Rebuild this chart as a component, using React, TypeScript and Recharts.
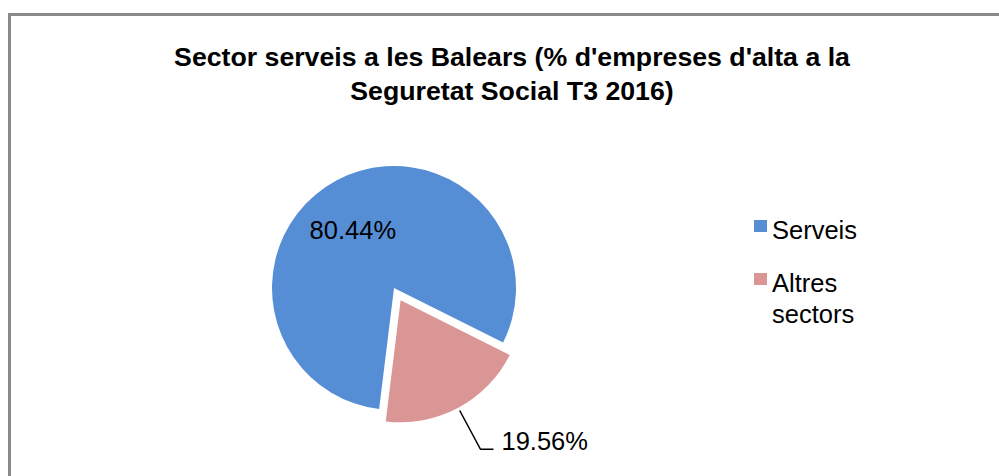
import { PieChart, Pie, Cell, Legend } from 'recharts';

const categories = ['Serveis', 'Altres sectors'];
const shares = [80.44, 19.56];
const shareLabels = ['80.44%', '19.56%'];
const colors = ['#558ed5', '#d99694'];

const data = categories.map((name, i) => ({ name, value: shares[i] }));

const FONT = '"Liberation Sans", Arial, Helvetica, sans-serif';
const RADIAN = Math.PI / 180;

// pie geometry (pink slice pulled out along its bisector)
const CX = 394;
const CY = 288;
const R = 122;
const START = 263;
const EXPLODE = 14;

function ServeisLabel(props: any) {
  const { cx, cy, midAngle, outerRadius, index } = props;
  if (index !== 0) return null;
  const r = outerRadius * 0.54;
  const x = cx + r * Math.cos(-midAngle * RADIAN) - 10;
  const y = cy + r * Math.sin(-midAngle * RADIAN);
  return (
    <text x={x} y={y + 9} textAnchor="middle" fill="#000" fontSize={25.5} fontFamily={FONT}>
      {shareLabels[0]}
    </text>
  );
}

function AltresLabel(props: any) {
  const { cx, cy, midAngle, outerRadius, index } = props;
  if (index !== 1) return null;
  const cos = Math.cos(-midAngle * RADIAN);
  const sin = Math.sin(-midAngle * RADIAN);
  const sx = cx + (outerRadius + 3) * cos;
  const sy = cy + (outerRadius + 3) * sin;
  const ex = cx + (outerRadius + 47) * cos;
  const ey = cy + (outerRadius + 47) * sin;
  return (
    <g>
      <path d={`M${sx},${sy}L${ex},${ey}L${ex + 13},${ey}`} stroke="#000" strokeWidth={1.5} fill="none" />
      <text x={ex + 21} y={ey + 1} textAnchor="start" fill="#000" fontSize={25.5} fontFamily={FONT}>
        {shareLabels[1]}
      </text>
    </g>
  );
}

function renderLegend() {
  return (
    <div style={{ position: 'relative', fontFamily: FONT, fontSize: 25.5, lineHeight: '31px', color: '#000' }}>
      {categories.map((name, i) => (
        <div key={name} style={{ position: 'relative', paddingLeft: 18, marginBottom: i === 0 ? 22 : 0 }}>
          <span
            style={{
              position: 'absolute',
              left: 0,
              top: 5,
              width: 13,
              height: 12,
              background: colors[i],
            }}
          />
          {name === 'Altres sectors' ? (
            <>
              Altres
              <br />
              sectors
            </>
          ) : (
            name
          )}
        </div>
      ))}
    </div>
  );
}

export default function App() {
  const mid = START - (shares[0] / 100) * 360 - (shares[1] / 100) * 180;
  const ox = EXPLODE * Math.cos(-mid * RADIAN);
  const oy = EXPLODE * Math.sin(-mid * RADIAN);

  return (
    <div style={{ position: 'relative', width: 999, height: 476, overflow: 'hidden', background: '#fff' }}>
      <style>{'body{margin:0;overflow:hidden}'}</style>
      <div
        style={{
          position: 'absolute',
          left: 8,
          top: 13,
          width: 1000,
          height: 500,
          borderLeft: '3px solid #8a8a8a',
          borderTop: '3px solid #8a8a8a',
        }}
      />
      <div
        style={{
          position: 'absolute',
          left: 112,
          top: 40,
          width: 800,
          textAlign: 'center',
          fontFamily: FONT,
          fontWeight: 'bold',
          fontSize: 26.7,
          lineHeight: '34px',
          color: '#000',
        }}
      >
        Sector serveis a les Balears (% d'empreses d'alta a la
        <br />
        Seguretat Social T3 2016)
      </div>
      <div style={{ position: 'absolute', left: 0, top: 0 }}>
        <PieChart width={999} height={476} margin={{ top: 0, right: 0, bottom: 0, left: 0 }}>
          <Pie
            data={data}
            dataKey="value"
            nameKey="name"
            cx={CX}
            cy={CY}
            outerRadius={R}
            startAngle={START}
            endAngle={START - 360}
            stroke="none"
            label={ServeisLabel}
            labelLine={false}
            isAnimationActive={false}
          >
            <Cell fill={colors[0]} />
            <Cell fill="none" />
          </Pie>
          <Pie
            data={data}
            dataKey="value"
            nameKey="name"
            cx={CX + ox}
            cy={CY + oy}
            outerRadius={R}
            startAngle={START}
            endAngle={START - 360}
            stroke="none"
            label={AltresLabel}
            labelLine={false}
            isAnimationActive={false}
          >
            <Cell fill="none" />
            <Cell fill={colors[1]} />
          </Pie>
          <Legend
            content={renderLegend}
            wrapperStyle={{ position: 'absolute', left: 754, top: 215, width: 140 }}
          />
        </PieChart>
      </div>
    </div>
  );
}
